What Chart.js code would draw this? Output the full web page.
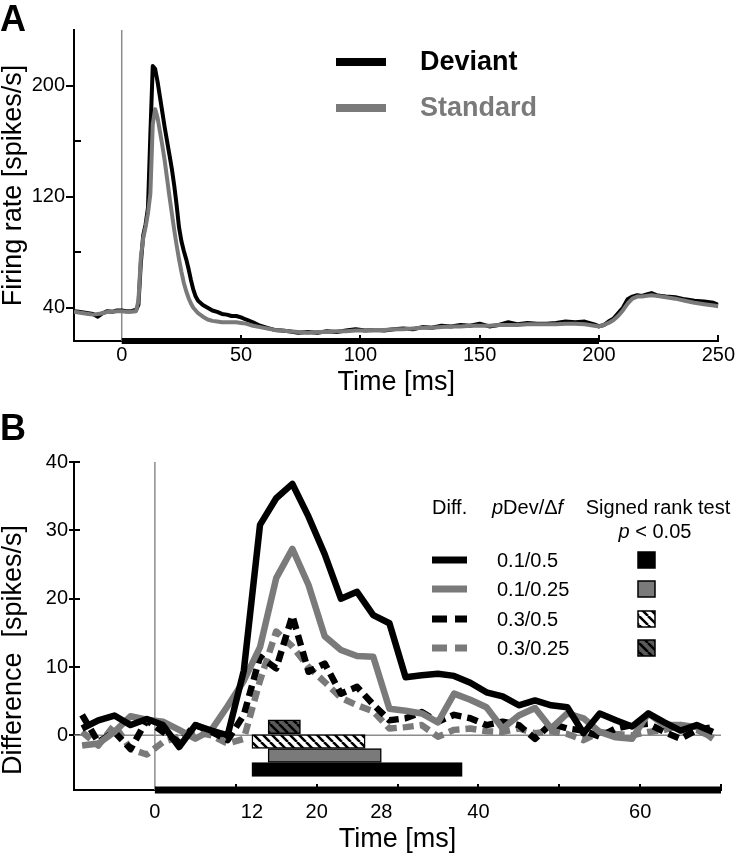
<!DOCTYPE html>
<html>
<head>
<meta charset="utf-8">
<script src="https://cdn.jsdelivr.net/npm/chart.js@4"></script>
<style>
  body { margin: 0; background: #fff; }
  #wrapA { position: absolute; left: 0; top: 0; width: 743px; height: 400px; }
  #wrapB { position: absolute; left: 0; top: 400px; width: 743px; height: 453px; }
</style>
</head>
<body>
<div id="wrapA"><canvas id="chartA"></canvas></div>
<div id="wrapB"><canvas id="chartB"></canvas></div>
<script>
const FONT = '"Liberation Sans", Arial, Helvetica, sans-serif';
const GRAY = '#7a7a7a';
const REF_GRAY = '#8c8c8c';

// ---- panel A: firing rate (spikes/s) vs time (ms) ----
const timeA = [-20,-18,-16,-14,-12,-10,-8,-6,-4,-2,
  0,2,4,6,7,8,9,10,11,12,
  13,14,15,16,17,18,19,20,21,22,
  23,24,25,26,27,28,29,30,31,32,
  34,36,38,40,42,44,46,48,50,52,
  55,58,61,64,67,70,74,78,82,86,
  90,94,98,102,106,110,114,118,122,126,
  130,134,138,142,146,150,154,158,162,166,
  170,174,178,182,186,190,194,198,200,202,
  204,206,208,210,212,214,216,218,220,222,
  224,226,228,232,236,240,244,248,250];
const deviantA = [37.5,37,36.5,36,35.5,33.5,36,37.5,37,38,
  38,37.5,37.5,38.5,42,72,92,100,112,165,
  214,212,203,192,181,170,160,150,140,128,
  114,98,88,81,75,68,60,53,48,45,
  42,40,38,37,35.5,35,34,34,33,31.5,
  29.5,27,25.5,24,23.5,23,22,22.5,22,23,
  22.5,23.5,24.5,23.5,24,23.5,24.5,25,24.5,26,
  25.5,27,26.5,27.5,27,28.5,26.5,27.5,29.5,28,
  29,28.5,28.5,29,30,29.5,30,28,26.5,27.5,
  30,32,36,40,46,48,49,48.5,49.5,50.5,
  49,48.5,48,47.5,46,45,44.5,43.5,42];
const standardA = [37,36.5,36,35.5,35,35.5,36,37,37,37.5,
  37.5,37,37,37.5,45,76,90,98,108,122,
  172,183,177,167,157,146,133,120,108,96,
  85,75,66,58,52,47,43,40,38,36,
  33.5,31.5,30.5,30,29.5,29.5,29.5,29.5,29,28.5,
  27,26,25,24,23.5,23,22.5,22,22.5,22.5,
  23,23,23.5,23.5,24,24,24.5,24.5,25,25.5,
  25.5,26,26.5,26.5,27,27,27,27.5,27.5,27.5,
  28,28,28,28,28.5,28.5,28,27,26.5,27.5,
  29,31,34,38,43,46.5,48,48,48.5,49,
  48.5,48,47.5,46.5,45,43.5,42.5,41.5,41];
const xTicksA = [0, 50, 100, 150, 200, 250];
const yTicksA = [40, 120, 200];
const yMinorA = [80, 160];
const xRangeA = [-20, 250];
const yRangeA = [16, 240];
const stimA = [0, 200];

// ---- panel B: deviant - standard difference, 2 ms bins ----
const timeB = [-9,-7,-5,-3,-1,1,3,5,7,9,
  11,13,15,17,19,21,23,25,27,29,
  31,33,35,37,39,41,43,45,47,49,
  51,53,55,57,59,61,63,65,67,69];
const diff01_05 = [1.0,2.2,2.9,1.5,2.4,1.5,-1.7,1.5,0.7,0.0,
  9.5,30.8,34.7,36.8,32,26.5,20,21,17.6,16.4,
  8.5,8.8,9,8.7,7.7,6.3,5.7,4.4,5.1,4.4,
  4.1,0.3,3.2,2.2,1.3,3.2,1.9,0.7,1.5,0.5];
const diff01_025 = [-1.5,-1.2,0.5,2.8,2.3,2.0,0.8,-0.5,0.8,4.3,
  8,12.9,23,27.3,22,14.5,12.5,11.6,11.5,3.9,
  3.6,3.2,1.9,6.1,5.2,4.1,1.0,2.9,4.0,1.0,
  3.2,2.5,0.5,-0.3,-0.5,3.2,1.5,1.5,1.2,-0.5];
const diff03_05 = [3.0,-1.0,0.5,-2.0,2.2,0.5,-1.0,1.5,0.5,-0.7,
  3,11.5,9.8,17.5,9.3,10.5,6.1,7.1,4.5,2.2,
  2.5,3.4,2.0,3.0,2.5,1.5,2.0,1.5,-0.5,1.7,
  1.0,0.7,-0.2,1.0,1.5,1.7,0.5,-0.5,0.8,1.2];
const diff03_025 = [0.5,-1.5,1.5,-2.0,-2.8,-1.0,-0.2,0.5,0.0,-1.2,
  -0.5,8.0,15.2,13.0,10.0,7.8,5.5,4.4,3.5,1.0,
  1.2,1.5,-0.2,0.8,1.0,0.6,0.5,1.0,0.3,0.6,
  0.2,-0.7,0.5,0.2,0.0,0.5,0.8,1.5,0.8,-0.3];
const xTicksB = [0, 10, 12, 20, 28, 30, 40, 50, 60, 70];
const xLabelsB = [0, 12, 20, 28, 40, 60];
const xMarksB = [10, 20, 30, 40, 50, 60, 70];
const yTicksB = [0, 10, 20, 30, 40];
const xRangeB = [-10, 70];
const yRangeB = [-8, 40];
const stimB = [0, 70];

// signed rank test, p < 0.05 (start/end in ms, row = bar centre in spikes/s)
const sigNames = ['0.1/0.5', '0.1/0.25', '0.3/0.5', '0.3/0.25'];
const sigStart = [12, 14, 12, 14];
const sigEnd = [38, 28, 26, 18];
const sigRow = [-5, -2.95, -0.9, 1.25];

Chart.defaults.font.family = FONT;
Chart.defaults.color = '#000';

function pts(xs, ys) {
  return xs.map((x, i) => ({ x: x, y: ys[i] }));
}

function hatch(bg) {
  const c = document.createElement('canvas');
  c.width = 9; c.height = 9;
  const g = c.getContext('2d');
  g.fillStyle = bg;
  g.fillRect(0, 0, 9, 9);
  g.strokeStyle = '#000';
  g.lineWidth = 2.5;
  g.beginPath();
  for (let k = -1; k <= 1; k++) { g.moveTo(k * 9, 0); g.lineTo(k * 9 + 9, 9); }
  g.stroke();
  return g.createPattern(c, 'repeat');
}

const sigFill = ['#000', GRAY, hatch('#fff'), hatch('#5a5a5a')];

function lineSet(label, xs, ys, color, width, dash, order) {
  return {
    label: label, data: pts(xs, ys), borderColor: color, borderWidth: width,
    borderDash: dash, pointRadius: 0, tension: 0, borderJoinStyle: 'round', order: order
  };
}

const lineA = {
  id: 'lettersA',
  afterDraw(chart) {
    const ctx = chart.ctx;
    ctx.save();
    ctx.fillStyle = '#000';
    ctx.font = 'bold 36px ' + FONT;
    ctx.textBaseline = 'alphabetic';
    ctx.fillText('A', 0, 31);
    ctx.font = 'bold 27px ' + FONT;
    ctx.textBaseline = 'middle';
    ctx.lineWidth = 8;
    [[chart.data.datasets[3], 62], [chart.data.datasets[2], 108]].forEach(r => {
      ctx.strokeStyle = r[0].borderColor;
      ctx.beginPath(); ctx.moveTo(336, r[1]); ctx.lineTo(386, r[1]); ctx.stroke();
      ctx.fillStyle = r[0].borderColor;
      ctx.fillText(r[0].label, 420, r[1] + 1);
    });
    ctx.restore();
  }
};

function richText(ctx, parts, x, y, center) {
  const fonts = parts.map(p => (p[1] ? 'italic ' : '') + '20px ' + FONT);
  const widths = parts.map((p, i) => { ctx.font = fonts[i]; return ctx.measureText(p[0]).width; });
  let cx = center ? x - widths.reduce((a, b) => a + b, 0) / 2 : x;
  parts.forEach((p, i) => { ctx.font = fonts[i]; ctx.fillText(p[0], cx, y); cx += widths[i]; });
}

const legendB = {
  id: 'legendB',
  afterDraw(chart) {
    const ctx = chart.ctx;
    ctx.save();
    ctx.fillStyle = '#000';
    ctx.font = 'bold 36px ' + FONT;
    ctx.textBaseline = 'alphabetic';
    ctx.fillText('B', 0, 40);
    ctx.textBaseline = 'middle';
    richText(ctx, [['Diff.', false]], 432, 108, false);
    richText(ctx, [['p', true], ['Dev/\u0394', false], ['f', true]], 492, 108, false);
    richText(ctx, [['Signed rank test', false]], 658, 108, true);
    richText(ctx, [['p', true], [' < 0.05', false]], 655, 132, true);
    const rowY = [160, 189, 219, 248];
    sigNames.forEach((name, i) => {
      const ds = chart.data.datasets.find(d => d.label === name);
      const y = rowY[i];
      ctx.strokeStyle = ds.borderColor;
      ctx.lineWidth = 7;
      ctx.setLineDash(ds.borderDash ? [15, 8] : []);
      ctx.beginPath(); ctx.moveTo(432, y); ctx.lineTo(467, y); ctx.stroke();
      ctx.setLineDash([]);
      ctx.fillStyle = '#000';
      richText(ctx, [[name, false]], 497, y + 1, false);
      ctx.fillStyle = sigFill[i];
      ctx.fillRect(638, y - 8, 17, 16);
      ctx.lineWidth = 1.5;
      ctx.strokeStyle = '#000';
      ctx.strokeRect(638, y - 8, 17, 16);
    });
    ctx.restore();
  }
};

new Chart(document.getElementById('chartA'), {
  type: 'line',
  data: {
    datasets: [
      { data: pts(stimA, stimA.map(() => yRangeA[0])), borderColor: '#000', borderWidth: 6,
        pointRadius: 0, clip: false, borderCapStyle: 'butt', order: 0 },
      { data: pts([0, 0], yRangeA), borderColor: REF_GRAY, borderWidth: 1.5, pointRadius: 0, order: 5 },
      lineSet('Standard', timeA, standardA, GRAY, 4, undefined, 1),
      lineSet('Deviant', timeA, deviantA, '#000', 4, undefined, 2)
    ]
  },
  options: {
    animation: false, responsive: true, maintainAspectRatio: false, events: [],
    layout: { padding: { top: 30, right: 17, left: 0, bottom: 0 } },
    plugins: { legend: { display: false }, tooltip: { enabled: false } },
    scales: {
      x: {
        type: 'linear', min: xRangeA[0], max: xRangeA[1],
        afterBuildTicks: s => { s.ticks = xTicksA.map(v => ({ value: v })); },
        afterFit: s => { s.height = 59; },
        border: { color: '#000', width: 2 },
        grid: { drawOnChartArea: false, tickLength: -6, lineWidth: 2,
          color: c => (c.tick && c.tick.value === 0 ? 'rgba(0,0,0,0)' : '#000') },
        ticks: { font: { size: 20 }, padding: 8, maxRotation: 0, autoSkip: false,
          callback: v => String(v) },
        title: { display: true, text: 'Time [ms]', font: { size: 27, lineHeight: 1 },
          padding: { top: 0, bottom: 4 } }
      },
      y: {
        type: 'linear', min: yRangeA[0], max: yRangeA[1], weight: 0,
        afterBuildTicks: s => { s.ticks = yTicksA.map(v => ({ value: v })); },
        afterFit: s => { s.width = 74; },
        border: { color: '#000', width: 2 },
        grid: { drawOnChartArea: false, tickLength: 8, color: '#000', lineWidth: 2 },
        ticks: { font: { size: 20 }, padding: 1, callback: v => String(v) },
        title: { display: true, text: 'Firing rate [spikes/s]', font: { size: 27, lineHeight: 1 },
          padding: { top: 0, bottom: 0 } }
      },
      yMinor: {
        type: 'linear', position: 'left', min: yRangeA[0], max: yRangeA[1], weight: -1,
        afterBuildTicks: s => { s.ticks = yMinorA.map(v => ({ value: v })); },
        afterFit: s => { s.width = 0; },
        border: { display: false },
        grid: { drawOnChartArea: false, tickLength: -7, color: '#000', lineWidth: 2 },
        ticks: { display: false }
      }
    }
  },
  plugins: [lineA]
});

const sigData = sigStart.map((s, i) => ({ x: [s, sigEnd[i]], y: sigRow[i] }));

new Chart(document.getElementById('chartB'), {
  type: 'line',
  data: {
    datasets: [
      { data: pts(stimB, stimB.map(() => yRangeB[0])), borderColor: '#000', borderWidth: 7,
        pointRadius: 0, clip: false, borderCapStyle: 'butt', order: 0 },
      { type: 'bar', indexAxis: 'y', data: sigData, backgroundColor: sigFill,
        borderColor: '#000', borderWidth: 1.5, borderSkipped: false, barThickness: 14, order: 1 },
      lineSet(sigNames[0], timeB, diff01_05, '#000', 6.5, undefined, 2),
      lineSet(sigNames[1], timeB, diff01_025, GRAY, 6.5, undefined, 3),
      lineSet(sigNames[2], timeB, diff03_05, '#000', 6.5, [11, 6], 4),
      lineSet(sigNames[3], timeB, diff03_025, GRAY, 6.5, [11, 6], 5),
      { data: pts(xRangeB, [0, 0]), borderColor: REF_GRAY, borderWidth: 1.5, pointRadius: 0, order: 6 },
      { data: pts([0, 0], yRangeB), borderColor: REF_GRAY, borderWidth: 1.5, pointRadius: 0, order: 7 }
    ]
  },
  options: {
    animation: false, responsive: true, maintainAspectRatio: false, events: [],
    layout: { padding: { top: 62, right: 22, left: 0, bottom: 0 } },
    plugins: { legend: { display: false }, tooltip: { enabled: false } },
    scales: {
      x: {
        type: 'linear', min: xRangeB[0], max: xRangeB[1], offset: false,
        afterBuildTicks: s => { s.ticks = xTicksB.map(v => ({ value: v })); },
        afterFit: s => { s.height = 63; },
        border: { color: '#000', width: 2 },
        grid: { drawOnChartArea: false, offset: false, tickLength: -6, lineWidth: 2,
          color: c => (c.tick && xMarksB.includes(c.tick.value) ? '#000' : 'rgba(0,0,0,0)') },
        ticks: { font: { size: 20 }, padding: 16, maxRotation: 0, autoSkip: false,
          callback: v => (xLabelsB.includes(v) ? String(v) : '') },
        title: { display: true, text: 'Time [ms]', font: { size: 27, lineHeight: 1 },
          padding: { top: 0, bottom: 0 } }
      },
      y: {
        type: 'linear', min: yRangeB[0], max: yRangeB[1], weight: 0, offset: false,
        afterBuildTicks: s => { s.ticks = yTicksB.map(v => ({ value: v })); },
        afterFit: s => { s.width = 74; },
        border: { color: '#000', width: 2 },
        grid: { drawOnChartArea: false, offset: false, tickLength: 5, color: '#000', lineWidth: 2 },
        ticks: { font: { size: 20 }, padding: 1, callback: v => String(v) },
        title: { display: true, text: '  Difference  [spikes/s]', align: 'start',
          font: { size: 27, lineHeight: 1 }, padding: { top: 0, bottom: 0 } }
      },
      yMinor: {
        type: 'linear', position: 'left', min: yRangeB[0], max: yRangeB[1], weight: -1,
        afterBuildTicks: s => { s.ticks = yTicksB.map(v => ({ value: v })); },
        afterFit: s => { s.width = 0; },
        border: { display: false },
        grid: { drawOnChartArea: false, tickLength: -6, color: '#000', lineWidth: 2 },
        ticks: { display: false }
      }
    }
  },
  plugins: [legendB]
});
</script>
</body>
</html>
